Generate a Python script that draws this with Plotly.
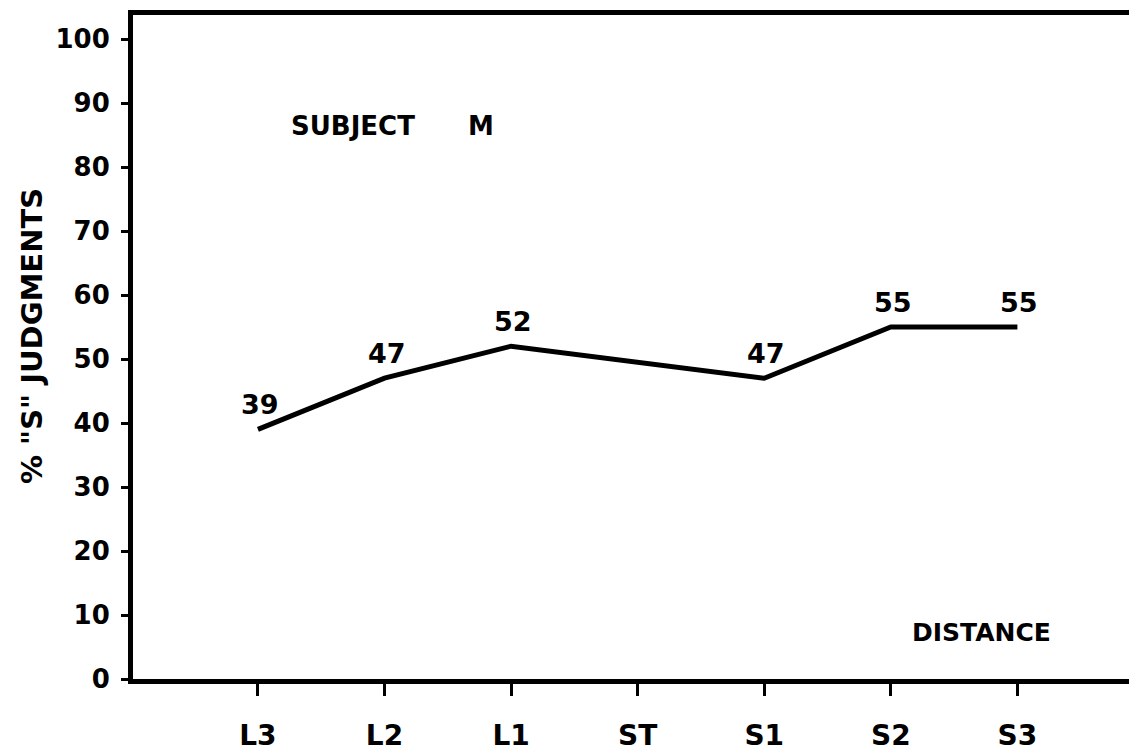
import plotly.graph_objects as go

categories = ["L3", "L2", "L1", "ST", "S1", "S2", "S3"]
pct_s = [39, 47, 52, None, 47, 55, 55]
point_labels = ["39", "47", "52", "", "47", "55", "55"]
y_ticks = [0, 10, 20, 30, 40, 50, 60, 70, 80, 90, 100]

FONT = "DejaVu Sans"
BLACK = "#000000"

fig = go.Figure()
fig.add_trace(go.Scatter(
    x=categories, y=pct_s, mode="lines", connectgaps=True,
    line=dict(color=BLACK, width=5), showlegend=False, hoverinfo="skip"))

annotations = []
for c, v, t in zip(categories, pct_s, point_labels):
    if v is None or not t:
        continue
    annotations.append(dict(x=c, y=v, text=f"<b>{t}</b>", showarrow=False,
                            yshift=25, xshift=2,
                            font=dict(family=FONT, size=27, color=BLACK)))

annotations += [
    dict(x=0.245, y=86.4, xanchor="left", text="<b>SUBJECT</b>",
         showarrow=False, font=dict(family=FONT, size=26, color=BLACK)),
    dict(x=1.76, y=86.4, text="<b>M</b>",
         showarrow=False, font=dict(family=FONT, size=26, color=BLACK)),
    dict(x=5.72, y=7.3, text="<b>DISTANCE</b>", showarrow=False,
         font=dict(family=FONT, size=25, color=BLACK)),
    dict(xref="paper", yref="paper", x=-0.1005, y=0.5166, textangle=-90,
         xanchor="center", yanchor="middle",
         text='<b>% "S" JUDGMENTS</b>', showarrow=False,
         font=dict(family=FONT, size=29, color=BLACK)),
]

fig.update_layout(
    width=1129, height=745,
    margin=dict(l=125, r=0, t=7, b=74),
    paper_bgcolor="white", plot_bgcolor="white",
    annotations=annotations,
    xaxis=dict(
        type="category", categoryorder="array", categoryarray=categories,
        range=[-0.987, 6.945], showgrid=False, zeroline=False,
        showline=True, linecolor=BLACK, linewidth=5, mirror=True,
        ticks="outside", ticklen=12, tickwidth=3, tickcolor=BLACK,
        ticklabelstandoff=15,
        tickfont=dict(family=FONT, size=28, color=BLACK, weight="bold"),
    ),
    yaxis=dict(
        range=[0, 103.75], tickvals=y_ticks, ticktext=[str(v) for v in y_ticks],
        showgrid=False, zeroline=False,
        showline=True, linecolor=BLACK, linewidth=5,
        ticks="outside", ticklen=7, tickwidth=3, tickcolor=BLACK,
        ticklabelstandoff=6,
        tickfont=dict(family=FONT, size=26, color=BLACK, weight="bold"),
    ),
)

fig.write_html("out.html")
